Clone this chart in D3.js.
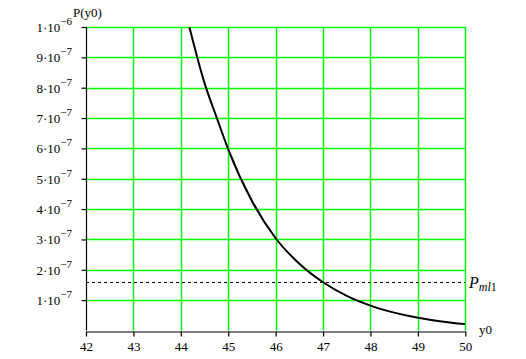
<!DOCTYPE html>
<html><head><meta charset="utf-8">
<script src="https://cdn.jsdelivr.net/npm/d3@7"></script>
<style>body{margin:0;background:#fff}svg{display:block}</style>
</head><body>
<script>
const xVals = [44.18, 44.5, 44.76, 45, 45.5, 46, 46.5, 47, 47.5, 48, 48.5, 49, 49.5, 50];
const yVals = [10.0e-7, 8.15e-7, 7.0e-7, 5.97e-7, 4.27e-7, 3.04e-7, 2.2e-7, 1.59e-7, 1.14e-7, 0.82e-7, 0.59e-7, 0.42e-7, 0.30e-7, 0.21e-7];
const xTicks = [42, 43, 44, 45, 46, 47, 48, 49, 50];
const yTicks = [1e-7, 2e-7, 3e-7, 4e-7, 5e-7, 6e-7, 7e-7, 8e-7, 9e-7, 1e-6];
const yTickMant = ["1", "2", "3", "4", "5", "6", "7", "8", "9", "1"];
const yTickExp = ["\u22127", "\u22127", "\u22127", "\u22127", "\u22127", "\u22127", "\u22127", "\u22127", "\u22127", "\u22126"];
const pml1 = 1.59e-7;

const W = 526, H = 359;
const svg = d3.select("body").append("svg").attr("width", W).attr("height", H);
const x = d3.scaleLinear().domain([42, 50]).range([86, 465.3]);
const y = d3.scaleLinear().domain([0, 1e-6]).range([330.5, 27]);
const font = "'Times New Roman', 'Liberation Serif', serif";

// grid
svg.append("g").selectAll("line").data(xTicks.slice(1)).join("line")
  .attr("x1", d => Math.round(x(d)) + 0.5).attr("x2", d => Math.round(x(d)) + 0.5)
  .attr("y1", y(1e-6)).attr("y2", y(0))
  .attr("stroke", "#00ff00").attr("stroke-width", 1.5);
svg.append("g").selectAll("line").data(yTicks).join("line")
  .attr("x1", x(42)).attr("x2", x(50))
  .attr("y1", d => Math.round(y(d)) + 0.5).attr("y2", d => Math.round(y(d)) + 0.5)
  .attr("stroke", "#00ff00").attr("stroke-width", 1.5);

// clip
svg.append("clipPath").attr("id", "clip").append("rect")
  .attr("x", x(42)).attr("y", y(1e-6)).attr("width", x(50) - x(42)).attr("height", y(0) - y(1e-6));

// dashed line
svg.append("line").attr("x1", x(42)).attr("x2", x(50))
  .attr("y1", Math.round(y(pml1)) + 0.5).attr("y2", Math.round(y(pml1)) + 0.5)
  .attr("stroke", "#000").attr("stroke-width", 1).attr("stroke-dasharray", "3,3");

// curve
const pts = xVals.map((v, i) => [v, yVals[i]]);
svg.append("path").datum(pts).attr("clip-path", "url(#clip)")
  .attr("d", d3.line().x(d => x(d[0])).y(d => y(d[1])).curve(d3.curveMonotoneX))
  .attr("fill", "none").attr("stroke", "#000").attr("stroke-width", 2);

// axes
const xAxis = svg.append("g").attr("transform", `translate(0,${Math.round(y(0)) + 0.5})`)
  .call(d3.axisBottom(x).tickValues(xTicks).tickSize(5).tickSizeOuter(0).tickFormat(d3.format("d")));
const yAxis = svg.append("g").attr("transform", `translate(${Math.round(x(42)) + 0.5},0)`)
  .call(d3.axisLeft(y).tickValues(yTicks).tickSize(5).tickSizeOuter(0).tickFormat(""));
[xAxis, yAxis].forEach(g => {
  g.select(".domain").attr("stroke", "#000").attr("stroke-width", 1.2);
  g.selectAll(".tick line").attr("stroke", "#000").attr("stroke-width", 1.2);
});
xAxis.selectAll(".tick text").attr("font-family", font).attr("font-size", 13).attr("fill", "#000").attr("dy", "0.85em");
yAxis.selectAll(".domain").attr("d", `M0,${y(0)}V${y(1e-6)}`);

// y tick labels with superscripts
const yl = svg.append("g").selectAll("text").data(yTicks).join("text")
  .attr("x", 72).attr("y", d => y(d) + 5)
  .attr("text-anchor", "end").attr("font-family", font).attr("font-size", 13).attr("fill", "#000");
yl.append("tspan").text((d, i) => yTickMant[i] + "\u00b710");
yl.append("tspan").attr("dy", -7).attr("font-size", 11).text((d, i) => yTickExp[i]);

// axis titles
svg.append("text").attr("x", 73).attr("y", 17).attr("font-family", font).attr("font-size", 13).text("P(y0)");
svg.append("text").attr("x", 479).attr("y", 334).attr("font-family", font).attr("font-size", 13).text("y0");

// P_ml1 label
const pl = svg.append("text").attr("x", 469).attr("y", y(pml1) + 6).attr("font-family", font).attr("font-size", 16);
pl.append("tspan").attr("font-style", "italic").text("P");
pl.append("tspan").attr("dy", 3).attr("font-size", 12).attr("font-style", "italic").text("ml");
pl.append("tspan").attr("font-size", 12).text("1");
</script>
</body></html>
